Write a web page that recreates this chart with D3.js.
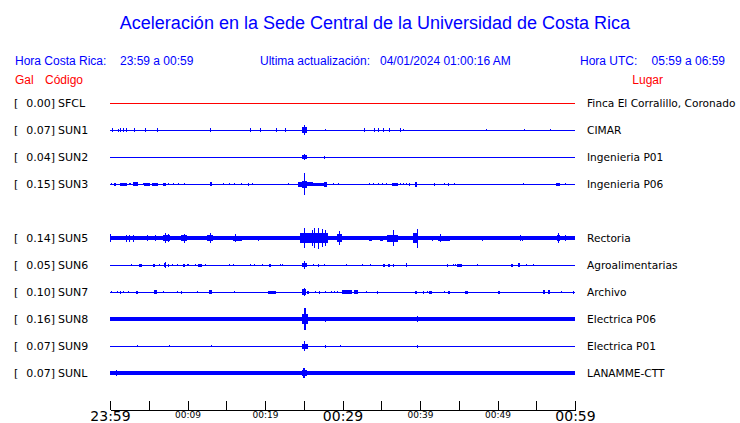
<!DOCTYPE html>
<html>
<head>
<meta charset="utf-8">
<script src="https://cdn.jsdelivr.net/npm/d3@7"></script>
<style>
  body { margin: 0; background: #fff; }
  .head { font-family: "Liberation Sans", Arial, sans-serif; }
  .lbl { font-family: "DejaVu Sans", sans-serif; font-size: 11px; fill: #000; }
  .place { font-size: 10.6px; }
</style>
</head>
<body>
<div id="chart"></div>
<script>
// stations, top to bottom (slot 4 = SUN4 is not shown)
const codes = ["SFCL", "SUN1", "SUN2", "SUN3", "SUN5", "SUN6", "SUN7", "SUN8", "SUN9", "SUNL"];
const slots = [0, 1, 2, 3, 5, 6, 7, 8, 9, 10];
const peakGal = ["0.00", "0.07", "0.04", "0.15", "0.14", "0.05", "0.10", "0.16", "0.07", "0.07"];
const places = ["Finca El Corralillo, Coronado", "CIMAR", "Ingenieria P01", "Ingenieria P06", "Rectoria",
  "Agroalimentarias", "Archivo", "Electrica P06", "Electrica P01", "LANAMME-CTT"];
const traceColors = ["#ff0000", "#0000ff", "#0000ff", "#0000ff", "#0000ff", "#0000ff", "#0000ff", "#0000ff", "#0000ff", "#0000ff"];
// background noise half-amplitude of each trace
const noise = [0.5, 0.5, 0.5, 0.5, 1.6, 0.5, 0.5, 1.6, 0.5, 1.7];

// bursts: [start minute, end minute, half-amplitude]
const sfclEvents = [];
const sun1Events = [
  [0.30, 0.30, 1.7], [0.99, 0.99, 1.5], [1.29, 1.29, 1.7], [1.72, 1.72, 1.7], [2.11, 2.11, 1.7],
  [3.05, 3.05, 1.7], [4.52, 4.52, 1.7], [6.02, 6.1, 1.8], [12.94, 12.94, 1.7], [18.10, 18.10, 1.7],
  [19.3, 19.5, 1.7], [21.46, 21.46, 1.7], [22.62, 22.62, 1.7], [24.81, 25.37, 3.3], [25.07, 25.07, 5],
  [27.78, 27.78, 1.2], [32.81, 32.81, 1.7], [34.10, 34.10, 1.7], [34.62, 34.62, 1.7], [35.26, 35.26, 1.7],
  [36.03, 36.03, 1.7], [37.45, 37.45, 1.7], [37.84, 37.84, 1.2], [48.55, 48.55, 1.2], [53.45, 53.45, 1.2],
  [56.80, 56.80, 1.2]
];
const sun2Events = [
  [24.81, 25.37, 2.3], [25.0, 25.1, 3], [27.65, 27.65, 1.5]
];
const sun3Events = [
  [0.13, 0.13, 1.3], [0.56, 0.73, 1.5], [1.29, 2.15, 1.5], [2.45, 2.67, 1.3], [3.01, 3.66, 1.6],
  [4.21, 4.43, 1.3], [4.43, 5.16, 1.5], [5.38, 6.24, 1.5], [6.88, 7.18, 1.5], [7.44, 7.65, 1.3],
  [8.08, 8.08, 1.3], [8.77, 8.77, 1], [9.55, 9.68, 1.3], [12.94, 13.12, 1.6], [14.62, 14.62, 1],
  [15.31, 15.31, 1.3], [15.95, 15.95, 1.3], [16.94, 16.94, 1.3], [17.76, 17.85, 1.5], [18.36, 18.36, 1],
  [23.0, 23.0, 0.8], [24.3, 24.73, 2.5], [24.73, 25.46, 3.5], [25.03, 25.16, 11], [25.46, 26.23, 2],
  [26.23, 27.74, 1.5], [27.65, 27.95, 2.5], [28.72, 28.72, 1.3], [29.46, 29.46, 1.3], [33.45, 33.45, 1],
  [33.88, 33.88, 1.3], [34.62, 34.62, 1.3], [35.05, 35.05, 1], [35.6, 35.6, 1.3], [36.34, 37.11, 1.5],
  [37.37, 37.37, 1], [37.75, 37.75, 1], [38.18, 38.18, 1], [38.57, 38.57, 1.5], [39.35, 39.65, 2.5],
  [41.8, 41.8, 1.5], [43.13, 43.2, 1.3], [43.56, 43.56, 1.5], [44.42, 44.42, 1], [53.23, 53.23, 1.3],
  [57.53, 58.0, 1.5], [58.7, 58.7, 1.3]
];
const sun5Events = [
  [0, 0, 4], [0.65, 0.9, 2], [1.29, 3.66, 2.3], [2.02, 2.02, 3.5], [2.45, 2.45, 3.5], [3.01, 3.01, 3.5],
  [4.09, 4.95, 2], [4.73, 4.73, 3], [5.38, 6.02, 2.3], [5.81, 5.81, 3], [6.24, 6.45, 1.7],
  [6.88, 7.74, 3], [7.1, 7.1, 5], [7.53, 7.53, 4], [8.17, 8.17, 1.8], [8.6, 8.9, 2],
  [9.16, 9.89, 3], [9.59, 9.59, 4.5], [12.47, 13.33, 3], [12.94, 12.94, 5], [15.91, 17.07, 2.5],
  [16.13, 16.13, 4], [19.14, 19.14, 2.5], [21.5, 21.5, 1.8], [24.3, 24.3, 1.8], [24.51, 28.08, 5],
  [25.07, 25.07, 10], [26.02, 26.02, 8], [26.27, 26.27, 10], [26.88, 26.88, 10.5], [27.39, 27.39, 9],
  [27.74, 27.74, 8], [29.33, 29.89, 4], [29.58, 29.58, 7], [32.47, 32.47, 1.8], [33.45, 33.76, 2.5],
  [34.83, 35.26, 2.5], [35.69, 37.2, 3.5], [36.55, 36.55, 8], [37.41, 39.13, 2], [39.13, 39.65, 5],
  [39.56, 39.56, 9.5], [40.85, 40.85, 2], [41.5, 41.5, 2.5], [42.36, 43.86, 2.5], [42.57, 42.57, 4],
  [44.38, 44.38, 2], [47.95, 47.95, 2.5], [52.89, 52.89, 3], [53.1, 53.1, 2.5], [57.62, 58.05, 3],
  [57.84, 57.84, 5], [58.7, 58.7, 3]
];
const sun6Events = [
  [2.67, 2.67, 1.3], [3.78, 4.09, 1.5], [5.5, 5.81, 1.5], [6.36, 6.36, 0.8], [7.01, 7.14, 2],
  [7.1, 7.1, 3], [7.44, 7.61, 1.5], [7.96, 7.96, 1.3], [8.6, 8.6, 1.3], [9.46, 9.68, 1.5],
  [9.89, 10.19, 1.3], [10.97, 10.97, 1], [11.4, 11.83, 1.5], [12.26, 12.26, 1.3], [15.35, 15.35, 1.3],
  [15.91, 15.91, 1.3], [18.1, 18.1, 1], [18.62, 18.62, 1], [19.61, 19.61, 0.8], [20.55, 20.77, 1.5],
  [21.93, 21.93, 1], [22.19, 22.19, 1.3], [24.81, 25.37, 2], [25.03, 25.1, 4], [26.23, 26.23, 1.3],
  [26.79, 26.96, 1.5], [27.56, 27.56, 1], [30.4, 30.4, 1.3], [32.51, 32.51, 1.3], [33.5, 33.5, 1],
  [35.17, 35.48, 1.5], [35.82, 36.12, 1.5], [36.46, 36.46, 1.5], [38.18, 38.18, 2], [43.43, 43.43, 1.5],
  [44.2, 44.2, 1], [44.5, 44.5, 1.3], [44.72, 45.37, 1.5], [47.3, 47.3, 1], [51.73, 52.03, 1.5],
  [52.68, 52.89, 1.7], [53.71, 53.71, 1], [54.52, 54.52, 1]
];
const sun7Events = [
  [0.09, 0.09, 1], [0.86, 0.86, 1], [1.25, 1.25, 1.5], [1.72, 1.72, 1.3], [2.37, 2.37, 1.3],
  [3.31, 3.66, 1.5], [5.72, 6.11, 1.7], [6.88, 6.88, 1.3], [8.6, 8.6, 1.3], [9.12, 9.25, 1.5],
  [11.27, 11.27, 1], [12.81, 13.12, 1.7], [16.0, 16.0, 1.3], [20.43, 21.37, 1.5], [24.81, 25.33, 2.7],
  [25.0, 25.1, 4], [25.37, 25.67, 1.5], [26.45, 26.45, 1.3], [26.96, 27.09, 1.5], [27.74, 27.74, 1.3],
  [28.47, 28.47, 1.3], [28.85, 28.85, 1.3], [29.24, 29.24, 1], [29.89, 31.18, 1.7], [30.87, 30.87, 2.3],
  [31.52, 31.95, 1.7], [32.98, 32.98, 1.3], [34.4, 34.62, 1.5], [39.35, 39.56, 1.5], [40.33, 40.55, 1.5],
  [40.89, 40.89, 1.3], [41.15, 41.5, 1.5], [43.13, 43.13, 1.3], [43.65, 43.86, 1.5], [45.8, 46.14, 1.5],
  [50.1, 50.27, 1.5], [55.9, 56.12, 2], [56.55, 56.76, 2], [58.18, 58.18, 1.3], [59.77, 59.77, 1.5]
];
const sun8Events = [
  [0.77, 0.77, 2.3], [1.42, 1.42, 1.8], [1.72, 1.72, 1.8], [2.02, 2.02, 1.8], [3.23, 3.23, 1.8],
  [13.03, 13.03, 1.8], [14.62, 14.62, 1.8], [24.21, 24.21, 1.8], [24.73, 25.5, 5], [25.03, 25.28, 11],
  [26.53, 26.53, 2.3], [27.74, 27.74, 2.5], [29.67, 29.67, 1.8], [36.68, 36.68, 1.8], [39.56, 39.56, 2.7]
];
const sun9Events = [
  [3.53, 3.53, 1.2], [7.65, 7.65, 1.2], [13.07, 13.07, 1.2], [24.81, 25.5, 2.5], [25.07, 25.07, 5],
  [27.74, 27.74, 1.5], [29.63, 29.63, 1.2], [39.65, 39.65, 1.5]
];
const sunlEvents = [
  [0.73, 0.73, 2.7], [5.33, 5.33, 2.2], [6.88, 6.88, 2.2], [7.4, 7.4, 2], [7.65, 7.65, 2.2],
  [10.1, 10.1, 2.2], [16.94, 16.94, 2.2], [24.21, 24.21, 2], [24.73, 25.37, 3.3], [24.95, 25.1, 5],
  [28.81, 28.81, 2.2], [36.68, 36.68, 2.2], [42.61, 42.61, 2]
];
const events = [sfclEvents, sun1Events, sun2Events, sun3Events, sun5Events, sun6Events,
  sun7Events, sun8Events, sun9Events, sunlEvents];

// time axis (minutes after 23:59)
const tickMinutes = [0, 5, 10, 15, 20, 25, 30, 35, 40, 45, 50, 55, 60];
const tickLabels = ["23:59", "", "00:09", "", "00:19", "", "00:29", "", "00:39", "", "00:49", "", "00:59"];
const bigTicks = ["23:59", "00:29", "00:59"];

const w = 740;
const h = 423;

const svg = d3.select("#chart").append("svg")
  .attr("width", w)
  .attr("height", h)
  .style("display", "block");

// header
svg.append("text")
  .attr("class", "head")
  .attr("x", 375).attr("y", 29)
  .attr("text-anchor", "middle")
  .attr("font-size", 18)
  .attr("fill", "#0000ff")
  .text("Aceleración en la Sede Central de la Universidad de Costa Rica");

const header = [
  { x: 15, anchor: "start", text: "Hora Costa Rica:", color: "#0000ff" },
  { x: 120, anchor: "start", text: "23:59 a 00:59", color: "#0000ff" },
  { x: 260, anchor: "start", text: "Ultima actualización:", color: "#0000ff" },
  { x: 380, anchor: "start", text: "04/01/2024 01:00:16 AM", color: "#0000ff" },
  { x: 580, anchor: "start", text: "Hora UTC:", color: "#0000ff" },
  { x: 725, anchor: "end", text: "05:59 a 06:59", color: "#0000ff" }
];
svg.selectAll(".hdr").data(header).enter().append("text")
  .attr("class", "head hdr")
  .attr("x", d => d.x).attr("y", 65)
  .attr("text-anchor", d => d.anchor)
  .attr("font-size", 12)
  .attr("fill", d => d.color)
  .text(d => d.text);

const colHeads = [
  { x: 15, anchor: "start", text: "Gal" },
  { x: 45, anchor: "start", text: "Código" },
  { x: 663, anchor: "end", text: "Lugar" }
];
svg.selectAll(".col").data(colHeads).enter().append("text")
  .attr("class", "head col")
  .attr("x", d => d.x).attr("y", 84)
  .attr("text-anchor", d => d.anchor)
  .attr("font-size", 12)
  .attr("fill", "#ff0000")
  .text(d => d.text);

// scales
const xScale = d3.scaleLinear().domain([0, 60]).range([110, 575]);
const rowScale = d3.scaleLinear().domain([0, 10]).range([103, 373]);
const ampScale = d3.scaleLinear().domain([-13.5, 13.5]).range([13.5, -13.5]);

const rows = svg.selectAll(".row")
  .data(codes.map((c, i) => ({ code: c, slot: slots[i], gal: peakGal[i], place: places[i],
    color: traceColors[i], noise: noise[i], events: events[i] })))
  .enter().append("g")
  .attr("class", "row")
  .attr("transform", d => "translate(0," + rowScale(d.slot) + ")");

rows.append("text").attr("class", "lbl")
  .attr("x", 14).attr("dy", "0.36em").text("[");
rows.append("text").attr("class", "lbl")
  .attr("x", 55).attr("dy", "0.36em").attr("text-anchor", "end").text(d => d.gal + "]");
rows.append("text").attr("class", "lbl")
  .attr("x", 58).attr("dy", "0.36em").text(d => d.code);
rows.append("text").attr("class", "lbl place")
  .attr("x", 587).attr("dy", "0.36em").text(d => d.place);

// background trace
rows.append("rect")
  .attr("x", xScale(0))
  .attr("width", xScale(60) - xScale(0))
  .attr("y", d => ampScale(d.noise))
  .attr("height", d => ampScale(-d.noise) - ampScale(d.noise))
  .attr("fill", d => d.color)
  .attr("shape-rendering", "crispEdges");

// bursts
rows.each(function (d) {
  d3.select(this).selectAll(".burst").data(d.events).enter().append("rect")
    .attr("class", "burst")
    .attr("x", e => xScale(e[0]))
    .attr("width", e => Math.max(1, xScale(e[1]) - xScale(e[0])))
    .attr("y", e => ampScale(e[2]))
    .attr("height", e => ampScale(-e[2]) - ampScale(e[2]))
    .attr("fill", d.color)
    .attr("shape-rendering", "crispEdges");
});

// time axis
const xAxis = d3.axisBottom(xScale)
  .tickValues(tickMinutes)
  .tickFormat((m, i) => tickLabels[i])
  .tickSizeInner(-9)
  .tickSizeOuter(0)
  .tickPadding(4);

const axisG = svg.append("g")
  .attr("transform", "translate(0,410)")
  .call(xAxis);
axisG.select(".domain").attr("stroke", "#000").attr("shape-rendering", "crispEdges");
axisG.selectAll(".tick line").attr("stroke", "#000").attr("shape-rendering", "crispEdges");
axisG.selectAll(".tick text")
  .attr("font-family", "DejaVu Sans, sans-serif")
  .attr("fill", "#000")
  .attr("font-size", (m, i) => bigTicks.includes(tickLabels[i]) ? 14 : 9)
  .attr("y", (m, i) => bigTicks.includes(tickLabels[i]) ? 1 : 2);
</script>
</body>
</html>
